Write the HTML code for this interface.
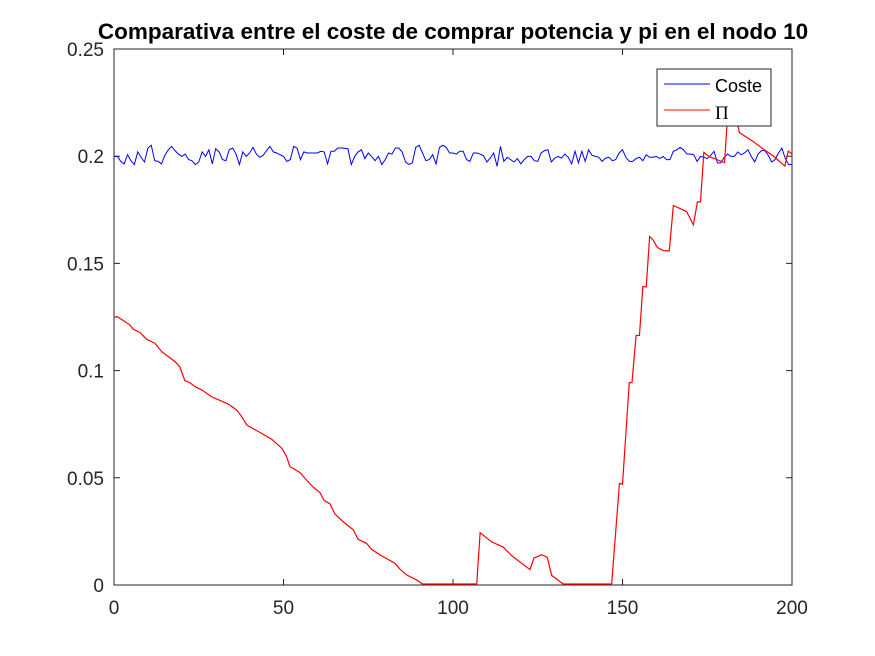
<!DOCTYPE html>
<html><head><meta charset="utf-8"><style>
html,body{margin:0;padding:0;background:#fff;}
svg{display:block;font-family:"Liberation Sans",Arial,sans-serif;}
</style></head><body>
<svg id="chart" width="875" height="656" viewBox="0 0 875 656">
<rect x="0" y="0" width="875" height="656" fill="#fff"/>
<text x="453" y="39" text-anchor="middle" font-size="22.5" font-weight="bold" fill="#000">Comparativa entre el coste de comprar potencia y pi en el nodo 10</text>
<g id="axes"></g>
<g id="series"></g>
<g>
<rect x="657" y="69" width="114" height="57" fill="#fff" stroke="#262626" stroke-width="1"/>
<line x1="664" y1="84" x2="710" y2="84" stroke="#0000ff" stroke-width="1"/>
<text x="715" y="92" font-size="18" fill="#000">Coste</text>
<line x1="664" y1="110" x2="710" y2="110" stroke="#ff0000" stroke-width="1"/>
<text x="715" y="119" font-size="19" font-family="Liberation Serif,serif" fill="#000">Π</text>
</g>
</svg>
<script>
const xTicks = [0, 50, 100, 150, 200];
const yTicks = [0, 0.05, 0.1, 0.15, 0.2, 0.25];
const yTickLabels = ["0", "0.05", "0.1", "0.15", "0.2", "0.25"];
const costeValues = [
.1999,.1999,.1976,.1964,.2007,.1979,.1961,.2020,.1995,.1973,
.2038,.2051,.1979,.1976,.1964,.2004,.2030,.2046,.2026,.2010,
.1999,.2010,.1984,.1979,.1961,.1973,.2020,.1999,.2030,.1964,
.2035,.2020,.1984,.1979,.2030,.2038,.2010,.1961,.2020,.1999,
.2015,.2041,.2010,.1995,.2004,.2026,.2046,.2020,.2015,.2007,
.1999,.1976,.1984,.2046,.2038,.1984,.2020,.2015,.2015,.2015,
.2015,.2023,.2020,.1964,.2023,.2023,.2038,.2038,.2037,.2035,
.1961,.1999,.2020,.2030,.1989,.2015,.1999,.1979,.1999,.1961,
.1984,.2015,.2010,.2038,.2038,.2020,.1973,.1961,.1969,.2041,
.2051,.2015,.1979,.1984,.2007,.1964,.2041,.2051,.2041,.2015,
.2015,.2010,.2023,.2023,.1984,.1976,.2015,.2015,.2010,.2002,
.1973,.1991,.2015,.1953,.2046,.1976,.1995,.1984,.1973,.1989,
.1964,.1984,.1999,.1999,.1979,.1976,.2015,.2026,.2030,.1973,
.1991,.1999,.1991,.2010,.1995,.1964,.2023,.1969,.2023,.1976,
.2030,.2004,.1999,.1995,.1976,.1991,.1995,.1979,.1984,.2015,
.2030,.1995,.1976,.1976,.1989,.1995,.1979,.2007,.1995,.1995,
.1999,.1989,.1999,.1984,.1984,.2023,.2030,.2041,.2030,.2010,
.2010,.2007,.1976,.1999,.1995,.1989,.2004,.2023,.1969,.1969,
.1995,.2010,.1999,.1999,.2020,.2007,.2015,.2030,.1999,.1973,
.2010,.2026,.2026,.2004,.1973,.1984,.2015,.2038,.1991,.1961,.1961];
const piX = [0,1,4.7,5.6,7.7,9.6,12.1,14.1,18,19.4,20.9,22.4,23.9,25.9,28.8,33.7,36.2,37.7,39.2,42.1,46.5,49.5,50.9,51.9,54.9,56.3,58.8,60.8,61.9,63.7,65.2,67.6,70.6,72,74.5,76,78.5,82.9,84.4,86.3,89.3,91,107,108,111.4,114.8,117.3,122.7,123.9,126.2,127.8,129.1,132.5,146.8,149.1,150,152,152.8,154,155,156,157,158,159,160.3,162,163.8,165,168.9,170.9,172.1,173,174,175.4,180.1,181,182,184,184.5,188.4,191.4,194.4,197.9,198.9,200];
const piValues = [.125,.1251,.1213,.1194,.1177,.1146,.1127,.1088,.1042,.1018,.0953,.0944,.0925,.091,.0878,.0844,.0816,.0785,.0746,.072,.068,.0638,.0599,.0552,.0524,.0498,.0456,.043,.0396,.0378,.0331,.0295,.0257,.0213,.0194,.0166,.014,.0101,.0073,.0047,.0023,0,0,.0244,.0201,.0177,.0137,.0072,.0126,.0141,.0129,.0045,0,0,.0474,.047,.0944,.0944,.1164,.1164,.1392,.139,.1625,.161,.1574,.156,.1558,.177,.1742,.168,.1787,.1787,.2018,.2,.197,.219,.225,.2145,.211,.207,.2035,.2002,.1954,.2024,.201];

const NS = "http://www.w3.org/2000/svg";
const L = 114, R = 792, T = 49, B = 585;
const xMin = 0, xMax = 200, yMin = 0, yMax = 0.25;
function sx(v){ return L + (v - xMin) / (xMax - xMin) * (R - L); }
function sy(v){ return B - (v - yMin) / (yMax - yMin) * (B - T); }
function mk(tag, attrs, parent){ const e = document.createElementNS(NS, tag); for (const k in attrs) e.setAttribute(k, attrs[k]); parent.appendChild(e); return e; }

const series = document.getElementById('series');
let d1 = costeValues.map((v, i) => (i ? 'L' : 'M') + sx(i).toFixed(2) + ',' + sy(v).toFixed(2)).join('');
const blue = mk('path', {d: d1, fill: 'none', stroke: '#0000ff', 'stroke-width': 1}, series);


let d2 = piValues.map((v, i) => (i ? 'L' : 'M') + sx(piX[i]).toFixed(2) + ',' + (sy(v) - (v === 0 ? 1 : 0)).toFixed(2)).join('');
const red = mk('path', {d: d2, fill: 'none', stroke: '#ff0000', 'stroke-width': 1.2}, series);



const axes = document.getElementById('axes');
const box = mk('rect', {x: L, y: T, width: R - L, height: B - T, fill: 'none', stroke: '#262626', 'stroke-width': 1}, axes);


xTicks.forEach(t => {
  const x = sx(t);
  const tk = mk('path', {d: `M${x},${B}V${B-6}M${x},${T}V${T+6}`, stroke: '#262626', 'stroke-width': 1}, axes);
  
  
  const lb = mk('text', {x: x, y: 614, 'text-anchor': 'middle', 'font-size': 19, fill: '#262626'}, axes);
  lb.textContent = String(t);
  
  
});
yTicks.forEach((t, i) => {
  const y = sy(t);
  const tk = mk('path', {d: `M${L},${y}H${L+6}M${R},${y}H${R-6}`, stroke: '#262626', 'stroke-width': 1}, axes);
  
  
  const lb = mk('text', {x: 104, y: y + 7, 'text-anchor': 'end', 'font-size': 19, fill: '#262626'}, axes);
  lb.textContent = yTickLabels[i];
  
  
});
</script>
</body></html>
